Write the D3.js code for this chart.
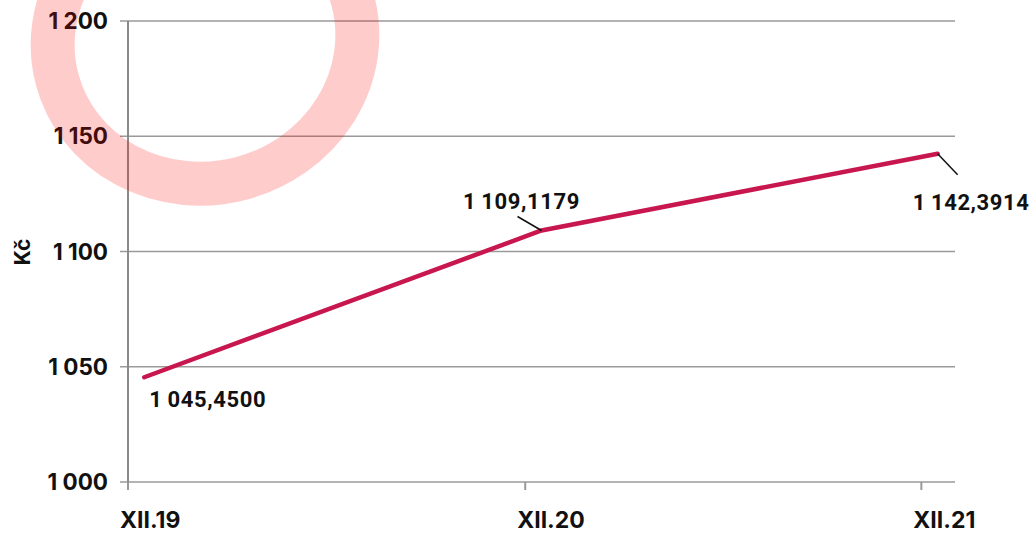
<!DOCTYPE html>
<html>
<head>
<meta charset="utf-8">
<script src="https://cdn.jsdelivr.net/npm/d3@7"></script>
<style>
  body { margin: 0; background: #fff; }
  svg { display: block; }
</style>
</head>
<body>
<svg width="1030" height="533"></svg>
<script>
// data
const months = ["XII.19", "XII.20", "XII.21"];
const dates = ["2019-12-16", "2020-12-16", "2021-12-16"];
const values = [1045.45, 1109.1179, 1142.3914];
const yTicks = [1000, 1050, 1100, 1150, 1200];
const tickDates = ["2019-12-01", "2020-12-01", "2021-12-01"];

const parse = d3.timeParse("%Y-%m-%d");
const points = values.map((v, i) => ({ month: months[i], date: parse(dates[i]), value: v }));

// label placement (dx, dy from point, anchor, leader end)
const labelPos = [
  { dx: 5, dy: 30, anchor: "start", leader: null },
  { dx: -20, dy: -21, anchor: "middle", leader: [-24, -14] },
  { dx: -25, dy: 56, anchor: "start", leader: [20, 21] }
];

const fmt = v => {
  const s = v.toFixed(4).split(".");
  return s[0].replace(/\B(?=(\d{3})+(?!\d))/g, "\u2009") + "," + s[1];
};
const tickFmt = v => String(v).replace(/\B(?=(\d{3})+(?!\d))/g, "\u00A0");

const svg = d3.select("svg");
const x = d3.scaleTime()
  .domain([parse("2019-12-01"), parse("2022-01-01")])
  .range([128, 955]);
const y = d3.scaleLinear().domain([1000, 1200]).range([482, 21]);

const axisFont = "Inter, 'DejaVu Sans', sans-serif";
const labelFont = "Roboto, 'DejaVu Sans', sans-serif";

// gridlines
svg.append("g").selectAll("line")
  .data(yTicks)
  .join("line")
  .attr("x1", 120).attr("x2", 955)
  .attr("y1", d => y(d)).attr("y2", d => y(d))
  .attr("stroke", "#9a9a9a")
  .attr("stroke-width", 1.5);

// y axis line
svg.append("line")
  .attr("x1", 128).attr("x2", 128)
  .attr("y1", y(1200)).attr("y2", y(1000) + 8)
  .attr("stroke", "#8a8a8a")
  .attr("stroke-width", 2);

// x ticks
svg.append("g").selectAll("line")
  .data(tickDates.map(parse))
  .join("line")
  .attr("x1", d => x(d)).attr("x2", d => x(d))
  .attr("y1", y(1000)).attr("y2", y(1000) + 8)
  .attr("stroke", "#9a9a9a")
  .attr("stroke-width", 2);

// y tick labels
svg.append("g").selectAll("text")
  .data(yTicks)
  .join("text")
  .attr("x", 108)
  .attr("y", d => y(d) + 8)
  .attr("text-anchor", "end")
  .attr("font-family", axisFont)
  .attr("font-weight", 700)
  .attr("font-size", 22.5)
  .attr("fill", "#111")
  .text(tickFmt);

// x labels
svg.append("g").selectAll("text")
  .data(tickDates.map(parse))
  .join("text")
  .attr("x", d => x(d) - 8)
  .attr("y", 528)
  .attr("font-family", axisFont)
  .attr("font-weight", 700)
  .attr("font-size", 23)
  .attr("fill", "#111")
  .text((d, i) => months[i]);

// y title
svg.append("text")
  .attr("transform", "translate(30,252) rotate(-90)")
  .attr("text-anchor", "middle")
  .attr("font-family", axisFont)
  .attr("font-weight", 700)
  .attr("font-size", 21)
  .attr("fill", "#111")
  .text("Kč");

// line
svg.append("path")
  .datum(points)
  .attr("fill", "none")
  .attr("stroke", "#c8164f")
  .attr("stroke-width", 4.5)
  .attr("stroke-linejoin", "round")
  .attr("stroke-linecap", "round")
  .attr("d", d3.line().x(d => x(d.date)).y(d => y(d.value)));

// leaders + labels
points.forEach((p, i) => {
  const px = x(p.date), py = y(p.value), o = labelPos[i];
  if (o.leader) {
    svg.append("line")
      .attr("x1", px).attr("y1", py)
      .attr("x2", px + o.leader[0]).attr("y2", py + o.leader[1])
      .attr("stroke", "#111").attr("stroke-width", 1.5);
  }
  svg.append("text")
    .attr("x", px + o.dx)
    .attr("y", py + o.dy)
    .attr("text-anchor", o.anchor)
    .attr("font-family", labelFont)
    .attr("font-weight", 700)
    .attr("font-size", 22)
    .attr("letter-spacing", 0.6)
    .attr("fill", "#111")
    .text(fmt(p.value));
});

// watermark ring
svg.append("ellipse")
  .attr("cx", 205).attr("cy", 40)
  .attr("rx", 153).attr("ry", 143)
  .attr("transform", "rotate(-15,205,40)")
  .attr("fill", "none")
  .attr("stroke", "rgba(255,0,0,0.2)")
  .attr("stroke-width", 44);
</script>
</body>
</html>
